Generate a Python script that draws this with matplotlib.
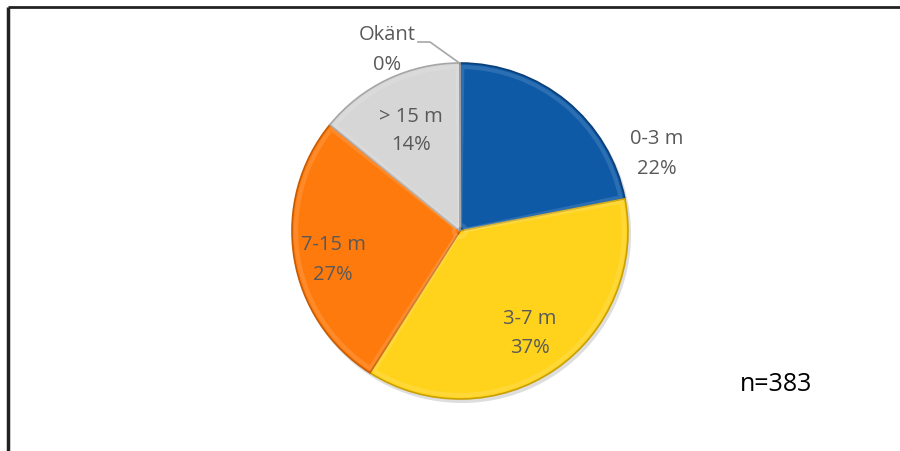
import matplotlib.pyplot as plt
from matplotlib.patches import Wedge

# antal per kategori (n=383)
categories = ['0-3 m', '3-7 m', '7-15 m', '> 15 m', 'Okänt']
counts = [84, 142, 103, 54, 0]
percent_labels = ['22%', '37%', '27%', '14%', '0%']
colors = ['#0E5AA7', '#FFD31C', '#FF7A0C', '#D6D6D6', '#BFBFBF']
edge_colors = ['#0A3F78', '#C9A000', '#C85A00', '#A6A6A6', '#8C8C8C']
# label centres in pixels (x, y from top)
label_pos = [(657, 154), (530, 334), (333, 260), (411, 131), (387, 50)]

W, H = 900, 452
fig = plt.figure(figsize=(9, 4.52), dpi=100)
ax = fig.add_axes([0, 0, 1, 1])

cx, cy, r = 460, H - 232, 168

# shadow
ax.add_patch(Wedge((cx + 2, cy - 3), r + 1, 0, 360, facecolor='#c8c8c8',
                   edgecolor='none', alpha=0.6, zorder=0))

wedges, _ = ax.pie(counts, colors=colors, startangle=90, counterclock=False,
                   center=(cx, cy), radius=r, frame=True,
                   wedgeprops=dict(linewidth=1.2))
for w, ec in zip(wedges, edge_colors):
    w.set_edgecolor(ec)
    w.set_zorder(2)
    # soft bevel inside each wedge
    if w.theta2 - w.theta1 > 1:
        ax.add_patch(Wedge((cx, cy), r - 4, w.theta1 + 0.8, w.theta2 - 0.8,
                           width=r - 10, facecolor='none', edgecolor='white',
                           alpha=0.12, linewidth=3, zorder=3))

ax.set_xlim(0, W)
ax.set_ylim(0, H)
ax.set_aspect('equal')
ax.axis('off')

for cat, pct, (lx, ly) in zip(categories, percent_labels, label_pos):
    ax.text(lx, H - ly, f'{cat}\n{pct}', ha='center', va='center', fontsize=14.5,
            color='#595959', family='Open Sans', linespacing=1.6, zorder=5)

# leader line for Okänt
ax.plot([418, 430, 458], [H - 43, H - 43, H - 63], color='#A6A6A6',
        linewidth=1.2, zorder=4)

ax.text(776, H - 385, 'n=383', ha='center', va='center', fontsize=18,
        color='black', family='Open Sans')

# frame lines (left and top), running off the canvas
ax.plot([8, 8], [-10, H - 8], color='#222222', linewidth=2.5, solid_capstyle='butt')
ax.plot([8, W + 10], [H - 8, H - 8], color='#222222', linewidth=2.0, solid_capstyle='butt')

fig.savefig('out.png', dpi=100)
